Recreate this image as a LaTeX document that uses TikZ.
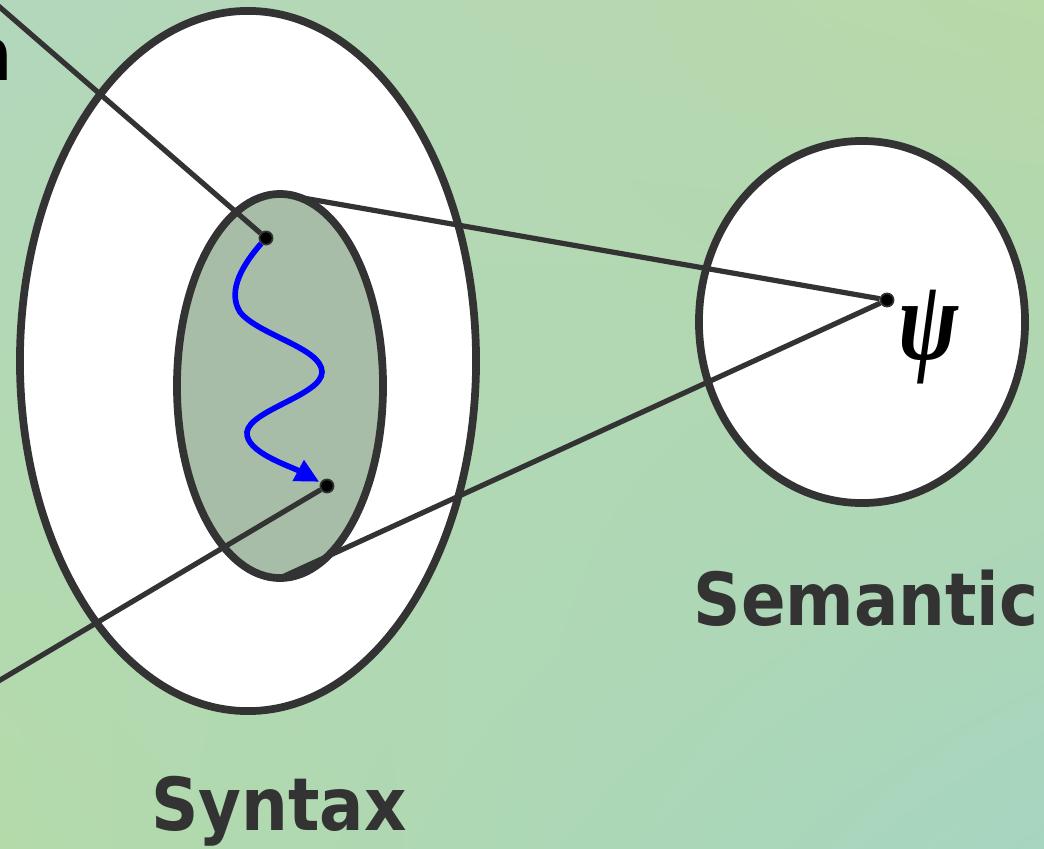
\documentclass[tikz,border=0pt]{standalone}
\usepackage{fontspec}
\setmainfont{DejaVu Sans Condensed}
\newfontfamily\greekfont{Liberation Serif}
\usetikzlibrary{shapes.geometric, arrows.meta, shadings}
\definecolor{ink}{RGB}{51,51,51}
\definecolor{sage}{RGB}{168,189,168}
\definecolor{waveblue}{RGB}{0,0,255}
\definecolor{bgnw}{RGB}{178,215,188}
\definecolor{bgne}{RGB}{184,217,168}
\definecolor{bgsw}{RGB}{180,218,170}
\definecolor{bgse}{RGB}{166,213,192}

\begin{document}
\begin{tikzpicture}[x=0.025cm, y=-0.025cm,
                    set/.style = {ellipse, draw=ink, line width=5.5pt, fill=white, inner sep=0pt, outer sep=0pt},
                    link/.style = {draw=ink, line width=3.7pt},
                    point/.style = {circle, fill=black, draw=ink, line width=1.2pt, minimum size=0.33cm, inner sep=0pt},
                    title/.style = {font=\bfseries\fontsize{52}{52}\selectfont, text=ink, anchor=base},
                    derivation/.style = {draw=waveblue, line width=4pt, -{Triangle[length=17pt, width=16pt]}, shorten >=1pt}]
    \useasboundingbox (0,0) rectangle (1044,848);
    \clip (0,0) rectangle (1044,848);
    \shade[upper left=bgnw, upper right=bgne, lower left=bgsw, lower right=bgse] (0,0) rectangle (1044,848);

    \node[set, minimum width=11.4cm, minimum height=17.5cm] (syn) at (248,361) {};
    \node[set, minimum width=8.15cm, minimum height=9.05cm] (sem) at (862,322) {};
    \node[set, fill=sage, minimum width=5.15cm, minimum height=9.6cm] (der) at (280,386) {};

    \node[point] (start) at (266,238) {};
    \node[point] (end) at (327,486) {};
    \node[point] (meaning) at (887,300) {};
    \coordinate (nw) at (-20,-10);
    \coordinate (sw) at (-20,692);

    \draw[link] (nw) -- (start);
    \draw[link] (sw) -- (end);
    \draw[link] (der.north) -- (meaning);
    \draw[link] (der.south) -- (meaning);

    \draw[derivation] (start) .. controls (245,262) and (226,290) .. (240,312)
        .. controls (258,335) and (322,348) .. (322,372)
        .. controls (322,395) and (250,410) .. (247,432)
        .. controls (245,452) and (290,466) .. (end);

    \node[font=\greekfont\bfseries\itshape\fontsize{82}{82}\selectfont, inner sep=0pt, xscale=0.78, transform shape] (psi) at (929,337) {ψ};
    \node[title] (syntax) at (279,830) {Syntax};
    \node[title] (semantic) at (866,625) {Semantic};
    \node[font=\bfseries\fontsize{52}{52}\selectfont, anchor=base east, inner sep=0pt] (cut) at (13,80) {n};
\end{tikzpicture}
\end{document}
